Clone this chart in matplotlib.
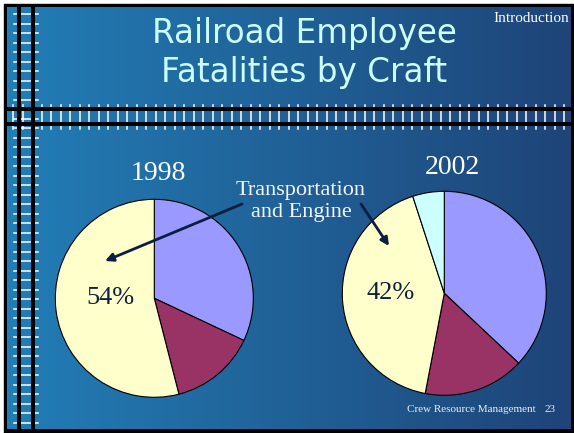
import numpy as np
import matplotlib.pyplot as plt
from matplotlib.colors import LinearSegmentedColormap
from matplotlib.patches import Rectangle

W, H = 574, 433

# data (percent of fatalities by craft)
years = ['1998', '2002']
pct_1998 = [32, 14, 54]
pct_2002 = [37, 16, 42, 5]
colors_1998 = ['#9999FF', '#993366', '#FFFFCC']
colors_2002 = ['#9999FF', '#993366', '#FFFFCC', '#CCFFFF']
te_labels = ['54%', '42%']

fig = plt.figure(figsize=(W / 100, H / 100), dpi=100)
fig.patch.set_facecolor('white')
ax = fig.add_axes([0, 0, 1, 1])
ax.axis('off')


def Y(y):
    # slide pixels are measured from the top
    return H - y


# frame + gradient background
ax.add_patch(Rectangle((4, 0), W - 4, H - 4, color='black', zorder=0))
bg = LinearSegmentedColormap.from_list('bg', ['#227EB6', '#1E4478'])
grad = np.linspace(0, 1, 256).reshape(1, -1)
ax.imshow(grad, cmap=bg, extent=[7, 571, Y(429), Y(7)], aspect='auto', zorder=1)

# rail decoration
for yy in np.arange(14.3, 426, 9.5):
    ax.plot([14, 38], [Y(yy), Y(yy)], color='white', lw=1.1, zorder=2)
for xx in np.arange(13.3, 568, 9.5):
    ax.plot([xx, xx], [Y(104.7), Y(128.7)], color='white', lw=1.1, zorder=2)
for xx in (19, 33):
    ax.plot([xx, xx], [Y(4), Y(431)], color='black', lw=2.9, zorder=3, solid_capstyle='butt')
for yy in (108.7, 123.7):
    ax.plot([4, W], [Y(yy), Y(yy)], color='black', lw=2.9, zorder=3, solid_capstyle='butt')

# titles
ax.text(304, Y(43.3), 'Railroad Employee', ha='center', va='baseline',
        fontsize=23.5, color='#CCFFFF', family='DejaVu Sans', zorder=5)
ax.text(304, Y(81.7), 'Fatalities by Craft', ha='center', va='baseline',
        fontsize=23.5, color='#CCFFFF', family='DejaVu Sans', zorder=5)
ax.text(569, Y(18), 'Introduction', ha='right', va='center',
        fontsize=11, color='white', family='Liberation Serif', zorder=5)
ax.text(407, Y(409), 'Crew Resource Management', ha='left', va='center',
        fontsize=8, color='#E8EEF5', family='Liberation Serif', zorder=5)
ax.text(556, Y(409), '23', ha='right', va='center',
        fontsize=8, color='#E8EEF5', family='Liberation Serif', zorder=5)

# pies
wp = dict(edgecolor='black', linewidth=0.8, zorder=4)
ax.pie(pct_1998, colors=colors_1998, startangle=90, counterclock=False,
       center=(154.3, Y(298.3)), radius=99, wedgeprops=wp, frame=True)
ax.pie(pct_2002, colors=colors_2002, startangle=90, counterclock=False,
       center=(444.3, Y(293.3)), radius=102, wedgeprops=wp, frame=True)

ax.text(158, Y(173), years[0], ha='center', va='center', fontsize=20,
        color='white', family='Liberation Serif', zorder=5)
ax.text(452, Y(168), years[1], ha='center', va='center', fontsize=20,
        color='white', family='Liberation Serif', zorder=5)
ax.text(110, Y(298), te_labels[0], ha='center', va='center', fontsize=19,
        color='#0F1F3F', family='Liberation Serif', zorder=5)
ax.text(391, Y(293), te_labels[1], ha='center', va='center', fontsize=19,
        color='#0F1F3F', family='Liberation Serif', zorder=5)

ax.text(301, Y(201.5), 'Transportation\nand Engine', ha='center', va='center',
        fontsize=16, color='#F4F4F4', family='Liberation Serif', linespacing=1.2, zorder=5)
arrow = dict(arrowstyle='-|>', color='#0B1E3F', lw=2, mutation_scale=12, shrinkA=0, shrinkB=0)
ax.annotate('', xy=(105, Y(261)), xytext=(242, Y(204)), arrowprops=arrow, zorder=6)
ax.annotate('', xy=(389, Y(246)), xytext=(361, Y(204)), arrowprops=arrow, zorder=6)

ax.set_xlim(0, W)
ax.set_ylim(0, H)
ax.set_aspect('auto')
fig.savefig('out.png', dpi=100, facecolor='white')
